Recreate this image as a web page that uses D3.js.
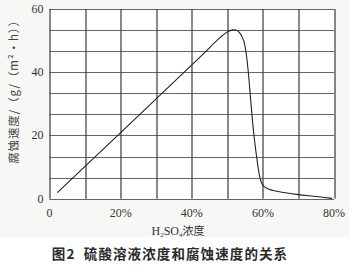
<!DOCTYPE html>
<html>
<head>
<meta charset="utf-8">
<script src="https://cdn.jsdelivr.net/npm/d3@7"></script>
<style>
  body { margin: 0; background: #ffffff; }
  svg { display: block; }
</style>
</head>
<body>
<div id="chart"></div>
<script>
// H2SO4 concentration (%) vs corrosion rate g/(m2.h)
var concentration = [2.2, 41.5, 48, 49.8, 51.5, 52.6, 53.6, 54.6, 55.3, 55.9, 57.5, 59.3, 59.8, 60.4, 61.7, 65, 70, 75, 79.5];
var corrosionRate = [1.9, 43.9, 51, 52.6, 53.4, 53.3, 52.3, 50, 46, 40, 20, 6, 4.6, 3.8, 3.0, 2.1, 1.3, 0.7, 0.1];

var xTicks = [0, 10, 20, 30, 40, 50, 60, 70, 80];
var xLabels = [0, 20, 40, 60, 80];
var yTicks = [0, 20 / 3, 40 / 3, 20, 80 / 3, 100 / 3, 40, 140 / 3, 160 / 3, 60];
var yLabels = [0, 20, 40, 60];

var yTitle = "腐蚀速度/（g/（m²·h））";
var caption = "图2  硫酸溶液浓度和腐蚀速度的关系";

var W = 349, H = 265;
var margin = {top: 9, right: 15, bottom: 66, left: 49.5};
var width = 334 - margin.left;
var height = 198.7 - margin.top;

var svg = d3.select("#chart").append("svg")
    .attr("width", W)
    .attr("height", H);

// light grey panel behind the figure, white under the caption
svg.append("rect")
    .attr("x", 0).attr("y", 0)
    .attr("width", W).attr("height", 237)
    .attr("fill", "#f7f7f6");

var g = svg.append("g")
    .attr("transform", "translate(" + margin.left + "," + margin.top + ")");

var x = d3.scaleLinear().domain([0, 80]).range([0, width]);
var y = d3.scaleLinear().domain([0, 60]).range([height, 0]);

g.append("rect")
    .attr("width", width).attr("height", height)
    .attr("fill", "#ffffff");

// horizontal grid
g.selectAll(".hgrid")
    .data(yTicks)
    .enter().append("line")
    .attr("class", "hgrid")
    .attr("x1", 0).attr("x2", width)
    .attr("y1", function(d) { return Math.round(y(d)) + 0.5; })
    .attr("y2", function(d) { return Math.round(y(d)) + 0.5; })
    .attr("stroke", "#666")
    .attr("stroke-width", 1.1);

// vertical grid
g.selectAll(".vgrid")
    .data(xTicks)
    .enter().append("line")
    .attr("class", "vgrid")
    .attr("y1", 0).attr("y2", height)
    .attr("x1", function(d) { return Math.round(x(d)) + 0.5; })
    .attr("x2", function(d) { return Math.round(x(d)) + 0.5; })
    .attr("stroke", "#3a3a3a")
    .attr("stroke-width", 1.2);

// tick labels
g.selectAll(".ylab")
    .data(yLabels)
    .enter().append("text")
    .attr("x", -6)
    .attr("y", function(d) { return y(d) + 4; })
    .attr("text-anchor", "end")
    .attr("font-family", "Liberation Serif, serif")
    .attr("font-size", 12)
    .attr("fill", "#333")
    .text(function(d) { return d; });

g.selectAll(".xlab")
    .data(xLabels)
    .enter().append("text")
    .attr("x", function(d) { return x(d); })
    .attr("y", height + 18)
    .attr("text-anchor", "middle")
    .attr("font-family", "Liberation Serif, serif")
    .attr("font-size", 12)
    .attr("fill", "#333")
    .text(function(d) { return d === 0 ? "0" : d + "%"; });

// curve
g.append("path")
    .attr("d", d3.line()
        .x(function(d, i) { return x(concentration[i]); })
        .y(function(d) { return y(d); })
        .curve(d3.curveCatmullRom.alpha(0.5))(corrosionRate))
    .attr("fill", "none")
    .attr("stroke", "#222")
    .attr("stroke-width", 1.1);

// y axis title
svg.append("text")
    .attr("transform", "translate(18," + 89 + ") rotate(-90)")
    .attr("text-anchor", "middle")
    .attr("font-family", "Noto Sans CJK SC, sans-serif")
    .attr("font-size", 11.5)
    .attr("letter-spacing", 0.9)
    .attr("fill", "#444")
    .text(yTitle);

// x axis title
var xt = svg.append("text")
    .attr("x", 178)
    .attr("y", 235)
    .attr("text-anchor", "middle")
    .attr("font-family", "Liberation Serif, serif")
    .attr("font-size", 12)
    .attr("fill", "#333");
xt.append("tspan").text("H");
xt.append("tspan").attr("font-size", 7).attr("dy", 2).text("2");
xt.append("tspan").attr("dy", -2).text("SO");
xt.append("tspan").attr("font-size", 7).attr("dy", 2).text("4");
xt.append("tspan").attr("dy", -2).attr("font-family", "Noto Sans CJK SC, sans-serif").attr("font-size", 11).text("浓度");

// caption
svg.append("text")
    .attr("x", 170)
    .attr("y", 259)
    .attr("text-anchor", "middle")
    .attr("font-family", "Noto Sans CJK SC, sans-serif")
    .attr("font-weight", "bold")
    .attr("font-size", 13.5)
    .attr("letter-spacing", 1.1)
    .attr("fill", "#2a2a2a")
    .attr("xml:space", "preserve")
    .style("white-space", "pre")
    .text(caption);
</script>
</body>
</html>
